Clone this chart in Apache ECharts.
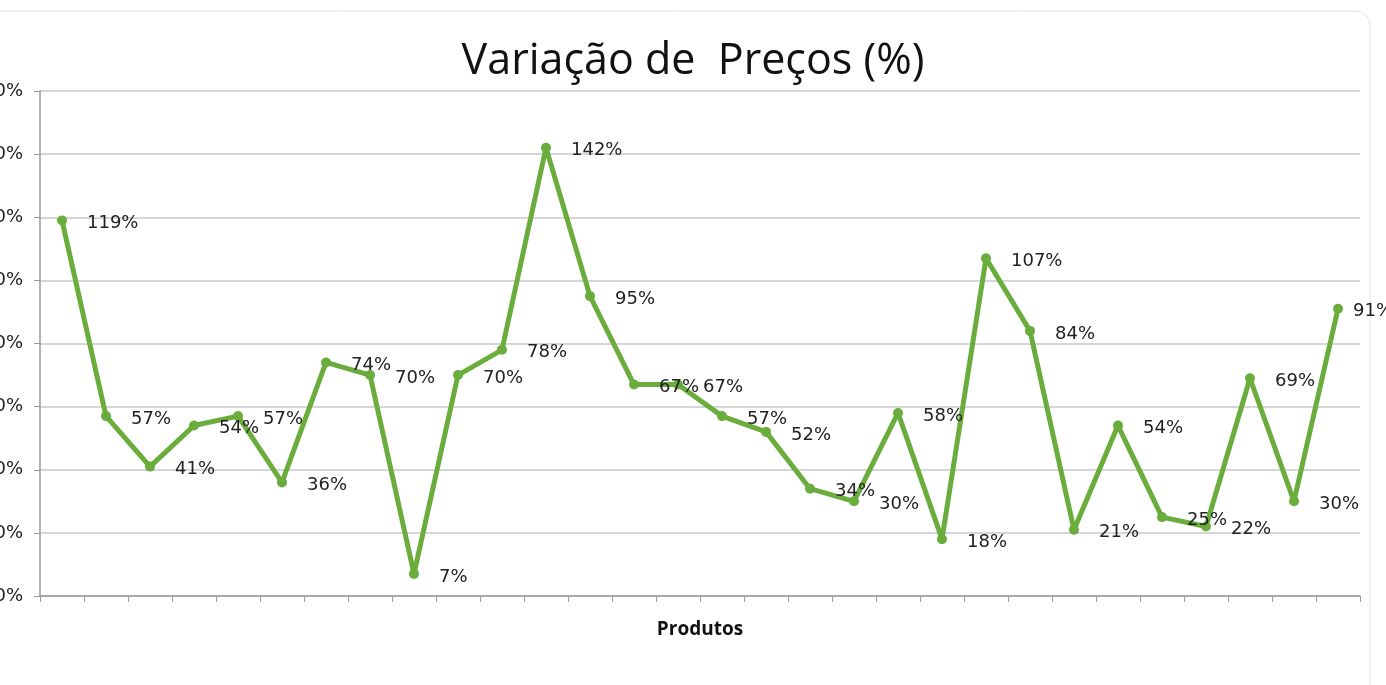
<!DOCTYPE html>
<html>
<head>
<meta charset="utf-8">
<title>Variação de Preços</title>
<script src="https://cdn.jsdelivr.net/npm/echarts@6/dist/echarts.min.js"></script>
<style>
  html, body { margin: 0; padding: 0; background: #fff; }
  #chart { width: 1386px; height: 685px; }
</style>
</head>
<body>
<div id="chart"></div>
<script>
// produtos (sem nome no gráfico original)
var produtos = []
for (var i = 1; i <= 30; i++) produtos.push('P' + i)

// variação de preço em %
var variacao = [119, 57, 41, 54, 57, 36, 74, 70, 7, 70,
  78, 142, 95, 67, 67, 57, 52, 34, 30, 58,
  18, 107, 84, 21, 54, 25, 22, 69, 30, 91]

var yMin = 0
var yMax = 160
var yStep = 20

// o último rótulo fica colado ao ponto (borda do gráfico)
var serieData = variacao.map(function(v, i) {
  if (i === variacao.length - 1) {
    return { value: v, label: { distance: 10 } }
  }
  return v
})

var chart = echarts.init(document.getElementById('chart'))

chart.setOption({
  animation: false,
  title: {
    text: 'Variação de  Preços (%)',
    left: 'center',
    top: 35,
    textStyle: {
      fontFamily: 'Open Sans',
      fontSize: 43,
      fontWeight: 'normal',
      color: '#111'
    }
  },
  graphic: [
    {
      type: 'rect',
      shape: { x: -20, y: 11, width: 1390, height: 720, r: 14 },
      style: { fill: 'none', stroke: '#e2e2e2', lineWidth: 1 },
      silent: true
    }
  ],
  grid: {
    left: 40,
    right: 26,
    top: 91,
    bottom: 89,
    outerBoundsMode: 'none',
    containLabel: false
  },
  xAxis: {
    type: 'category',
    data: produtos,
    boundaryGap: true,
    name: 'Produtos',
    nameLocation: 'middle',
    nameGap: 24,
    nameTextStyle: {
      fontFamily: 'Open Sans',
      fontSize: 19,
      fontWeight: 'bold',
      color: '#111'
    },
    axisLine: { lineStyle: { color: '#999', width: 1.5 } },
    axisTick: { show: true, length: 6, alignWithLabel: false, lineStyle: { color: '#999' } },
    axisLabel: { show: false }
  },
  yAxis: {
    type: 'value',
    min: yMin,
    max: yMax,
    interval: yStep,
    axisLine: { show: true, lineStyle: { color: '#999', width: 1.5 } },
    axisTick: { show: true, length: 6, lineStyle: { color: '#999' } },
    axisLabel: {
      margin: 17,
      fontFamily: 'DejaVu Sans',
      fontSize: 18,
      color: '#222',
      formatter: '{value}%'
    },
    splitLine: { lineStyle: { color: '#c9c9c9', width: 1.5 } }
  },
  series: [
    {
      type: 'line',
      data: serieData,
      symbol: 'circle',
      symbolSize: 10,
      lineStyle: { color: '#6aad3d', width: 5 },
      itemStyle: { color: '#6aad3d' },
      label: {
        show: true,
        position: 'right',
        distance: 20,
        offset: [0, 3],
        fontFamily: 'DejaVu Sans',
        fontSize: 18,
        color: '#222',
        formatter: '{c}%'
      }
    }
  ]
})
</script>
</body>
</html>
